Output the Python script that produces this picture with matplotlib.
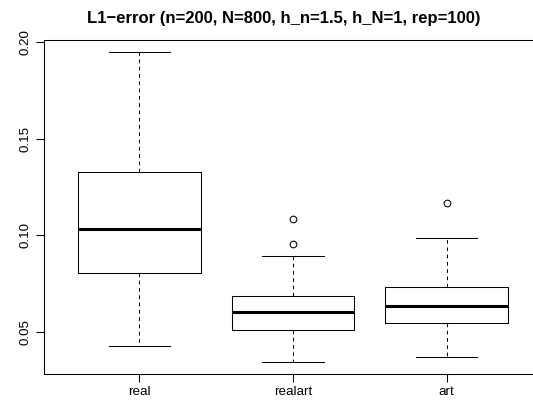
import matplotlib
matplotlib.use('Agg')
import matplotlib.pyplot as plt

plt.rcParams['font.family'] = ['Liberation Sans', 'DejaVu Sans']

groups = ['real', 'realart', 'art']
whislo = [0.0427, 0.0346, 0.0369]
q1 = [0.0805, 0.0509, 0.0545]
med = [0.1031, 0.0603, 0.0633]
q3 = [0.1329, 0.0684, 0.0731]
whishi = [0.1947, 0.0891, 0.0986]
fliers = [[], [0.1083, 0.0953], [0.1167]]

stats = []
for i in range(len(groups)):
    stats.append({'label': groups[i], 'whislo': whislo[i], 'q1': q1[i],
                  'med': med[i], 'q3': q3[i], 'whishi': whishi[i],
                  'fliers': fliers[i]})

fig = plt.figure(figsize=(5.33, 4.01), dpi=100)
ax = fig.add_axes([44 / 533, 27 / 401, 498 / 533, 334 / 401])

lw = 0.75
ax.bxp(stats, positions=[1, 2, 3], widths=0.8,
       boxprops=dict(color='black', linewidth=lw),
       medianprops=dict(color='black', linewidth=2.2, solid_capstyle='butt'),
       whiskerprops=dict(color='black', linewidth=lw, linestyle=(0, (3.5, 3.5))),
       capprops=dict(color='black', linewidth=lw),
       flierprops=dict(marker='o', markerfacecolor='none', markeredgecolor='black',
                       markersize=4.8, markeredgewidth=0.75),
       capwidths=0.4)

ax.set_xlim(0.38, 3.62)
ax.set_ylim(0.0282, 0.2011)
ax.set_yticks([0.05, 0.10, 0.15, 0.20])
ax.set_yticklabels(['0.05', '0.10', '0.15', '0.20'], rotation=90, va='center')
ax.set_xticks([1, 2, 3])
ax.set_xticklabels(groups)
ax.tick_params(length=6, width=0.75, labelsize=9.6, pad=3)
ax.tick_params(axis='x', pad=2.5)
for s in ['left', 'bottom', 'top']:
    ax.spines[s].set_linewidth(0.75)
ax.spines['right'].set_visible(False)

fig.text(284 / 533, 1 - 18 / 401, 'L1\u2212error (n=200, N=800, h_n=1.5, h_N=1, rep=100)',
         ha='center', va='center', fontsize=12, fontweight='bold')

fig.savefig('out.png', dpi=100)
